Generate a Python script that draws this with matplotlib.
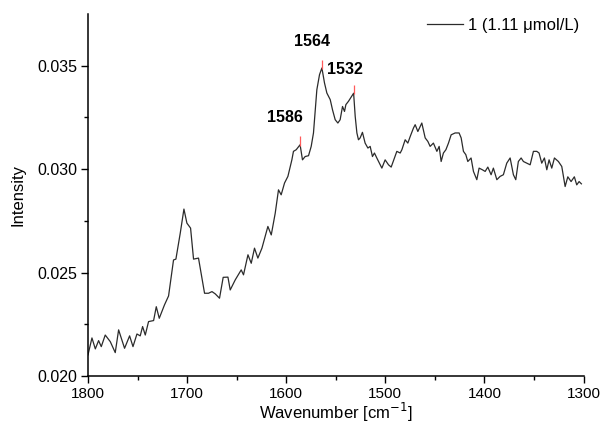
#!/usr/bin/env python3
# -*- coding: utf-8 -*-
"""
Raman-type spectrum with labelled peaks
"""

import matplotlib.pyplot as plt

plt.rcParams['font.family'] = ['Liberation Sans', 'DejaVu Sans']

# spectrum
wavenumber = [1800.0, 1796.0, 1792.6, 1789.3, 1786.6, 1782.6, 1777.5, 1772.5, 1769.1, 1763.1,
              1758.0, 1754.6, 1750.6, 1747.3, 1744.9, 1742.2, 1738.9, 1733.8, 1731.1, 1728.1,
              1722.8, 1718.7, 1713.7, 1711.3, 1706.9, 1703.2, 1700.2, 1696.5, 1693.5, 1688.5,
              1682.4, 1678.4, 1674.9, 1671.6, 1667.3, 1663.6, 1658.8, 1656.5, 1651.4, 1645.4,
              1643.1, 1638.6, 1635.3, 1632.0, 1628.6, 1624.5, 1618.5, 1615.1, 1611.1, 1607.8,
              1605.1, 1601.7, 1598.3, 1594.3, 1592.7, 1589.9, 1586.0, 1583.6, 1580.9, 1577.5,
              1574.8, 1572.5, 1569.1, 1566.4, 1564.0, 1561.4, 1559.0, 1555.6, 1553.3, 1550.6,
              1547.9, 1545.6, 1543.2, 1541.2, 1539.8, 1537.2, 1532.0, 1530.4, 1528.7, 1527.1,
              1525.4, 1523.1, 1520.4, 1517.6, 1515.3, 1513.0, 1511.0, 1508.6, 1503.5, 1500.2,
              1496.8, 1494.1, 1490.8, 1488.4, 1485.0, 1483.3, 1480.0, 1477.3, 1474.9, 1471.6,
              1469.9, 1467.2, 1463.2, 1459.8, 1457.1, 1454.8, 1451.5, 1448.0, 1445.7, 1443.7,
              1441.4, 1438.9, 1436.3, 1433.6, 1429.6, 1425.6, 1423.5, 1421.2, 1418.8, 1416.8,
              1413.5, 1411.1, 1407.7, 1405.4, 1402.1, 1399.3, 1396.6, 1393.3, 1391.0, 1387.5,
              1384.2, 1380.9, 1377.5, 1374.1, 1370.8, 1368.4, 1365.8, 1363.0, 1360.7, 1357.3,
              1353.9, 1350.6, 1347.2, 1344.9, 1342.2, 1339.5, 1337.1, 1334.8, 1332.1, 1329.4,
              1325.4, 1322.0, 1318.6, 1315.9, 1312.6, 1309.3, 1306.9, 1304.5, 1302.2]
intensity = [0.02102, 0.02184, 0.02131, 0.02171, 0.02142, 0.02198, 0.02166, 0.02113, 0.02223, 0.02134,
             0.02194, 0.02142, 0.02203, 0.02194, 0.02239, 0.02198, 0.02263, 0.02268, 0.02335, 0.02279,
             0.02344, 0.02387, 0.02561, 0.02565, 0.02691, 0.02807, 0.02739, 0.02715, 0.02565, 0.02570,
             0.02400, 0.02400, 0.02408, 0.02397, 0.02376, 0.02477, 0.02478, 0.02416, 0.02465, 0.02513,
             0.02489, 0.02586, 0.02545, 0.02618, 0.02570, 0.02618, 0.02723, 0.02682, 0.02787, 0.02900,
             0.02876, 0.02933, 0.02965, 0.03045, 0.03086, 0.03094, 0.03118, 0.03045, 0.03061, 0.03065,
             0.03110, 0.03175, 0.03384, 0.03457, 0.03489, 0.03417, 0.03368, 0.03336, 0.03287, 0.03239,
             0.03223, 0.03239, 0.03303, 0.03279, 0.03312, 0.03328, 0.03367, 0.03255, 0.03175, 0.03142,
             0.03151, 0.03178, 0.03126, 0.03102, 0.03110, 0.03061, 0.03078, 0.03054, 0.03005, 0.03045,
             0.03021, 0.03010, 0.03054, 0.03086, 0.03078, 0.03094, 0.03142, 0.03126, 0.03158, 0.03199,
             0.03215, 0.03182, 0.03223, 0.03151, 0.03134, 0.03110, 0.03126, 0.03086, 0.03110, 0.03037,
             0.03078, 0.03094, 0.03126, 0.03166, 0.03175, 0.03175, 0.03151, 0.03086, 0.03070, 0.03037,
             0.03054, 0.02989, 0.02949, 0.03005, 0.02997, 0.02989, 0.03010, 0.02973, 0.03005, 0.02949,
             0.02965, 0.02973, 0.03029, 0.03054, 0.02973, 0.02949, 0.03037, 0.03054, 0.03037, 0.03029,
             0.03021, 0.03086, 0.03086, 0.03078, 0.03029, 0.03054, 0.02997, 0.03045, 0.03005, 0.03054,
             0.03037, 0.03013, 0.02916, 0.02963, 0.02940, 0.02963, 0.02924, 0.02940, 0.02929]

peak_wn = [1586, 1564, 1532]
peak_int = [0.03118, 0.03489, 0.03367]
peak_labels = ['1586', '1564', '1532']

legend_label = '1 (1.11 \u03bcmol/L)'


fig = plt.figure(figsize=(6.01, 4.30), dpi=100)
ax = fig.add_axes([0.1464, 0.1256, 0.8246, 0.8418])

ax.plot(wavenumber, intensity, color='#2b2b2b', lw=0.9, label=legend_label)

# red peak markers
for pw, pi in zip(peak_wn, peak_int):
    ax.vlines(pw, pi - 0.00005, pi + 0.00040, color='#ff5a5a', lw=0.9)

# peak labels (offsets from each peak)
ax.text(peak_wn[0] + 15, peak_int[0] + 0.0013, peak_labels[0], ha='center', va='center',
        fontsize=11.5, fontweight='bold')
ax.text(peak_wn[1] + 9.5, peak_int[1] + 0.00128, peak_labels[1], ha='center', va='center',
        fontsize=11.5, fontweight='bold')
ax.text(peak_wn[2] + 27, peak_int[2] + 0.00114, peak_labels[2], ha='left', va='center',
        fontsize=11.5, fontweight='bold')

ax.set_xlim(1800, 1300)
ax.set_ylim(0.020, 0.0375)
ax.set_xticks([1800, 1700, 1600, 1500, 1400, 1300])
ax.set_xticks([1750, 1650, 1550, 1450, 1350], minor=True)
ax.set_yticks([0.020, 0.025, 0.030, 0.035])
ax.set_yticks([0.0225, 0.0275, 0.0325], minor=True)
ax.yaxis.set_major_formatter(plt.FormatStrFormatter('%.3f'))

ax.tick_params(which='major', direction='out', length=5, width=1, pad=3)
ax.tick_params(axis='x', labelsize=11)
ax.tick_params(axis='y', labelsize=11.5)
ax.tick_params(which='minor', direction='out', length=3, width=1)

ax.spines['right'].set_visible(False)
ax.spines['top'].set_visible(False)
ax.spines['left'].set_linewidth(1.1)
ax.spines['bottom'].set_linewidth(1.1)

ax.set_xlabel('Wavenumber [cm$^{-1}$]', fontsize=12, labelpad=0)
ax.set_ylabel('Intensity', fontsize=12, labelpad=8)

ax.legend(loc='upper right', frameon=False, fontsize=12, handlelength=2.2,
          handletextpad=0.3, bbox_to_anchor=(1.022, 1.03))

plt.savefig('out.png', dpi=100)
